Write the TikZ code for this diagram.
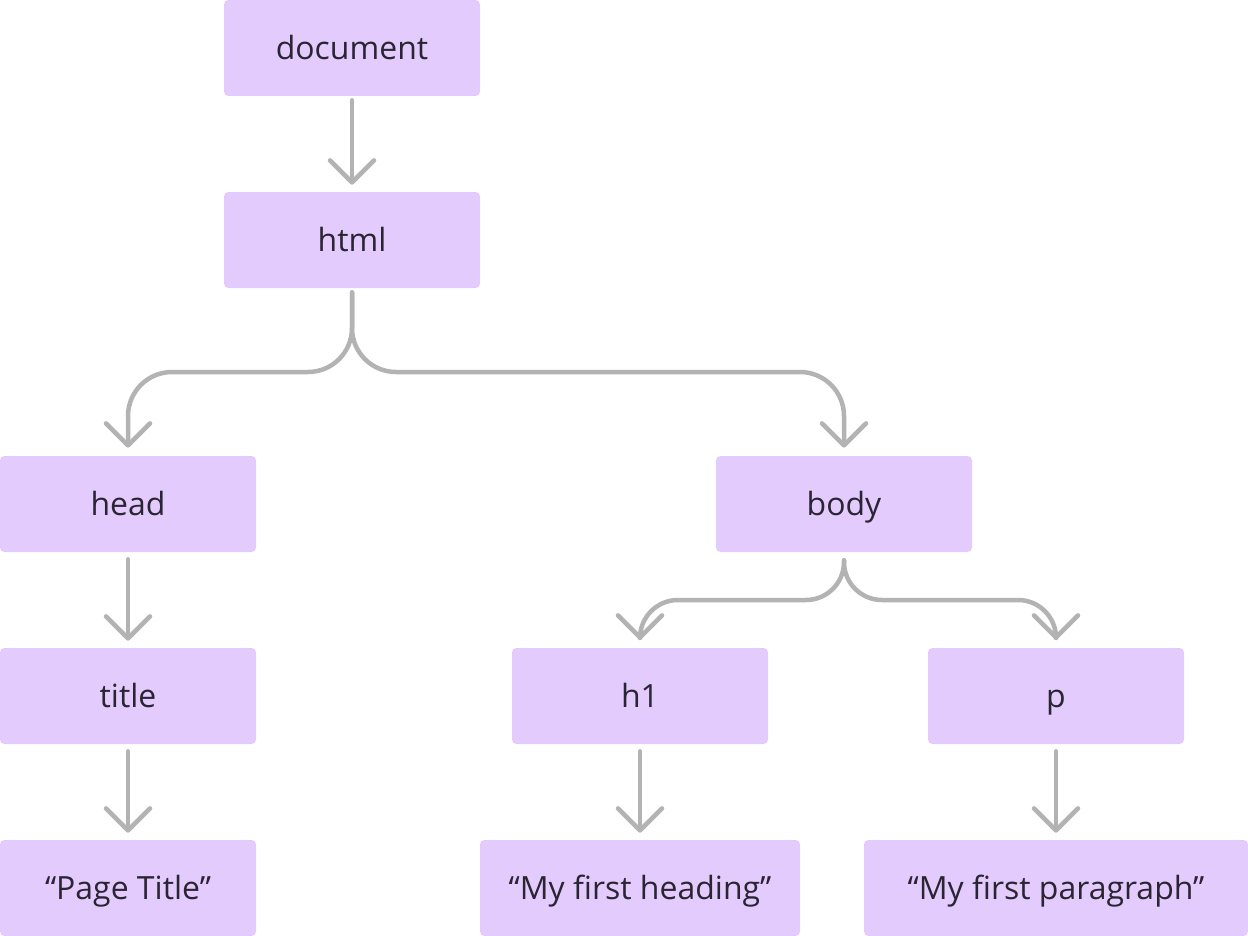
\documentclass[tikz,border=0pt]{standalone}
\usepackage{fontspec}
\setmainfont{Open Sans}
\usepackage{tikz}
\usetikzlibrary{arrows.meta}
\usetikzlibrary{positioning}

\definecolor{boxfill}{HTML}{E3CCFD}
\definecolor{boxtext}{HTML}{2B2433}
\definecolor{edgegray}{HTML}{B3B3B3}

\tikzset{
	treenode/.style = {fill=boxfill, text=boxtext, rounded corners=2.5pt, minimum width=256*0.02cm, minimum height=96*0.02cm, inner sep=0pt, text height=13pt, text depth=0pt, font=\fontsize{18.2}{21}\selectfont},
	edge/.style = {draw=edgegray, line width=4.5*0.02cm, line cap=round, line join=round, -{Straight Barb[length=22*0.02cm, width=44*0.02cm, line cap=round, line join=round]}},
}

\begin{document}
\begin{tikzpicture}[x = 0.02cm, y = -0.02cm]
	\useasboundingbox (0, 0) rectangle (1248, 936);
	% Nodes
	\node[treenode] (document) at (352, 48) {document};
	\node[treenode] (html) at (352, 240) {html};
	\node[treenode] (head) at (128, 504) {head};
	\node[treenode] (body) at (844, 504) {body};
	\node[treenode] (title) at (128, 696) {title};
	\node[treenode] (h1) at (640, 696) {h1};
	\node[treenode] (p) at (1056, 696) {p};
	\node[treenode] (pagetitle) at (128, 888) {“Page Title”};
	\node[treenode, minimum width=320*0.02cm] (heading) at (640, 888) {“My first heading”};
	\node[treenode, minimum width=384*0.02cm] (paragraph) at (1056, 888) {“My first paragraph”};

	% Edges
	\draw[edge] ([yshift=-4*0.02cm]document.south) to ([yshift=7*0.02cm]html.north);
	\draw[edge, rounded corners=44*0.02cm] ([yshift=-4*0.02cm]html.south) -- (352, 372) -- (128, 372) -- ([yshift=8*0.02cm]head.north);
	\draw[edge, rounded corners=44*0.02cm] ([yshift=-4*0.02cm]html.south) -- (352, 372) -- (844, 372) -- ([yshift=8*0.02cm]body.north);
	\draw[edge] ([yshift=-7*0.02cm]head.south) to ([yshift=7*0.02cm]title.north);
	\draw[edge] ([yshift=-7*0.02cm]title.south) to ([yshift=7*0.02cm]pagetitle.north);
	\draw[edge, rounded corners=38*0.02cm] ([yshift=-8*0.02cm]body.south) -- (844, 600) -- (640, 600) -- ([yshift=8*0.02cm]h1.north);
	\draw[edge, rounded corners=38*0.02cm] ([yshift=-8*0.02cm]body.south) -- (844, 600) -- (1056, 600) -- ([yshift=8*0.02cm]p.north);
	\draw[edge] ([yshift=-7*0.02cm]h1.south) to ([yshift=7*0.02cm]heading.north);
	\draw[edge] ([yshift=-7*0.02cm]p.south) to ([yshift=7*0.02cm]paragraph.north);
\end{tikzpicture}
\end{document}
